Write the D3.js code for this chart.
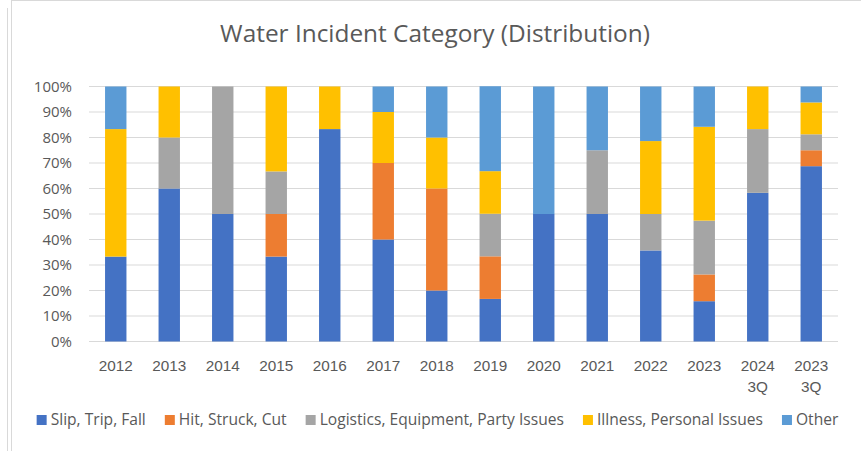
<!DOCTYPE html>
<html>
<head>
<meta charset="utf-8">
<script src="https://cdn.jsdelivr.net/npm/d3@7"></script>
<style>
  body { margin: 0; background: #ffffff; }
  svg { display: block; font-family: "Open Sans", sans-serif; }
</style>
</head>
<body>
<svg id="chart" width="861" height="451"></svg>
<script>
// Years (the last two labels break onto two lines)
const years = ["2012", "2013", "2014", "2015", "2016", "2017", "2018", "2019", "2020", "2021", "2022", "2023", "2024 3Q", "2023 3Q"];
const categories = ["Slip, Trip, Fall", "Hit, Struck, Cut", "Logistics, Equipment, Party Issues", "Illness, Personal Issues", "Other"];
const colors = ["#4472C4", "#ED7D31", "#A5A5A5", "#FFC000", "#5B9BD5"];

// share of each category per year (%)
const slipTripFall = [33.3, 60, 50, 33.3, 83.3, 40, 20, 16.7, 50, 50, 35.7, 15.8, 58.3, 68.75];
const hitStruckCut = [0, 0, 0, 16.7, 0, 30, 40, 16.7, 0, 0, 0, 10.5, 0, 6.25];
const logistics = [0, 20, 50, 16.7, 0, 0, 0, 16.7, 0, 25, 14.3, 21.1, 25, 6.25];
const illness = [50, 20, 0, 33.3, 16.7, 20, 20, 16.7, 0, 0, 28.6, 36.8, 16.7, 12.5];
const other = [16.7, 0, 0, 0, 0, 10, 20, 33.3, 50, 25, 21.4, 15.8, 0, 6.25];

const yTicks = [0, 0.1, 0.2, 0.3, 0.4, 0.5, 0.6, 0.7, 0.8, 0.9, 1];

const seriesValues = [slipTripFall, hitStruckCut, logistics, illness, other];

// rows for the stack layout
const table = years.map((year, i) => {
  const row = { year: year };
  categories.forEach((c, k) => { row[c] = seriesValues[k][i] / 100; });
  return row;
});

const svg = d3.select("#chart");
const margin = { top: 86.5, right: 23, bottom: 109.5, left: 89 };
const width = +svg.attr("width") - margin.left - margin.right;
const height = +svg.attr("height") - margin.top - margin.bottom;
const textColor = "#595959";
const gridColor = "#D9D9D9";

// frame lines of the sheet
svg.append("line")
  .attr("x1", 11.5).attr("x2", 11.5).attr("y1", 0).attr("y2", 451)
  .style("stroke", gridColor);
svg.append("line")
  .attr("x1", 11.5).attr("x2", 861).attr("y1", 0.5).attr("y2", 0.5)
  .style("stroke", gridColor);
svg.append("line")
  .attr("x1", 7.5).attr("x2", 7.5).attr("y1", 8).attr("y2", 451)
  .style("stroke", gridColor);

// Titre
svg.append("text")
  .attr("x", 435)
  .attr("y", 42)
  .attr("text-anchor", "middle")
  .style("font-size", "24.4px")
  .style("fill", textColor)
  .text("Water Incident Category (Distribution)");

const chart = svg.append("g")
  .attr("transform", `translate(${margin.left},${margin.top})`);

const x = d3.scaleBand()
  .domain(years)
  .range([0, width])
  .paddingInner(0.6)
  .paddingOuter(0.3);

const y = d3.scaleLinear()
  .domain([0, 1])
  .range([height, 0]);

// Grillage
chart.append("g")
  .selectAll("line")
  .data(yTicks)
  .join("line")
  .attr("x1", 0)
  .attr("x2", width)
  .attr("y1", d => y(d))
  .attr("y2", d => y(d))
  .style("stroke", gridColor)
  .style("stroke-width", 1);

// y axis labels
chart.append("g")
  .call(d3.axisLeft(y).tickValues(yTicks).tickFormat(d3.format(".0%")).tickSize(0).tickPadding(17))
  .call(g => g.select(".domain").remove())
  .selectAll("text")
  .style("font-family", "Open Sans, sans-serif")
  .style("font-size", "15px")
  .style("fill", textColor);

// stacked bars
const stack = d3.stack().keys(categories);
const layers = stack(table);

chart.selectAll(".layer")
  .data(layers)
  .join("g")
  .attr("class", "layer")
  .style("fill", (d, i) => colors[i])
  .selectAll("rect")
  .data(d => d)
  .join("rect")
  .attr("x", d => x(d.data.year))
  .attr("y", d => y(d[1]))
  .attr("height", d => y(d[0]) - y(d[1]))
  .attr("width", x.bandwidth());

// x axis labels (two lines when needed)
const xAxis = chart.append("g")
  .attr("transform", `translate(0,${height})`)
  .call(d3.axisBottom(x).tickSize(0).tickFormat(""))
  .call(g => g.select(".domain").remove());

xAxis.selectAll(".tick")
  .append("text")
  .attr("text-anchor", "middle")
  .style("font-size", "15.3px")
  .style("fill", textColor)
  .selectAll("tspan")
  .data(d => d.split(" "))
  .join("tspan")
  .attr("x", 0)
  .attr("y", (d, i) => 29.5 + i * 21)
  .text(d => d);

// Legende
const legend = svg.append("g");
let lx = 0;
categories.forEach((c, i) => {
  const item = legend.append("g").attr("transform", `translate(${lx},0)`);
  item.append("rect")
    .attr("x", 0).attr("y", 415)
    .attr("width", 10).attr("height", 10)
    .style("fill", colors[i]);
  const t = item.append("text")
    .attr("x", 14).attr("y", 425)
    .style("font-size", "15.6px")
    .style("fill", textColor)
    .text(c);
  lx += 14 + t.node().getComputedTextLength() + 19;
});
const legendWidth = lx - 19;
legend.attr("transform", `translate(${437.5 - legendWidth / 2},0)`);
</script>
</body>
</html>
